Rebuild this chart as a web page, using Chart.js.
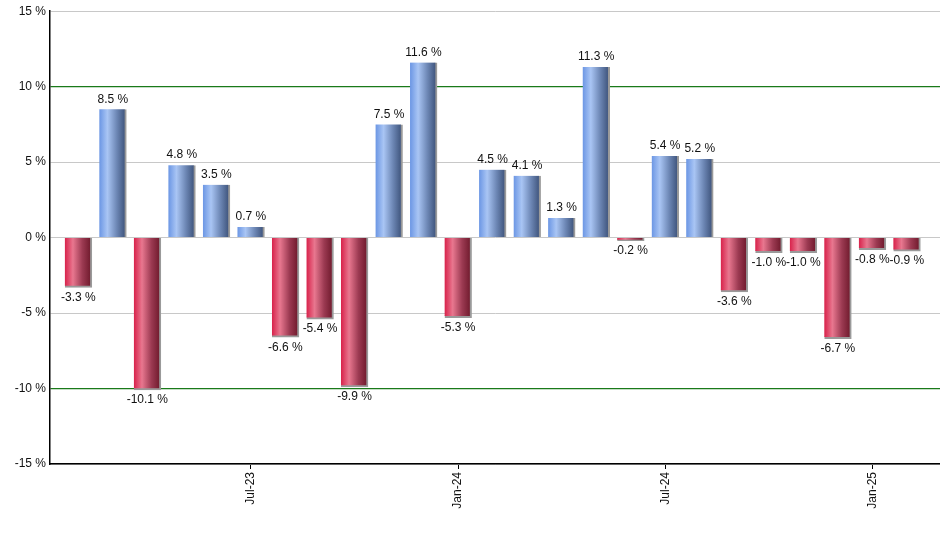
<!DOCTYPE html>
<html>
<head>
<meta charset="utf-8">
<script src="https://cdn.jsdelivr.net/npm/chart.js@4.4.1/dist/chart.umd.min.js"></script>
<style>
  html, body { margin:0; padding:0; background:#fff; }
  #wrap { position:relative; width:940px; height:550px; }
</style>
</head>
<body>
<div id="wrap"><canvas id="c"></canvas></div>
<script>
// monthly returns, Feb-23 .. Feb-25
const months = ['Feb-23','Mar-23','Apr-23','May-23','Jun-23','Jul-23','Aug-23','Sep-23','Oct-23','Nov-23','Dec-23',
  'Jan-24','Feb-24','Mar-24','Apr-24','May-24','Jun-24','Jul-24','Aug-24','Sep-24','Oct-24','Nov-24','Dec-24',
  'Jan-25','Feb-25']
const returns = [-3.3, 8.5, -10.1, 4.8, 3.5, 0.7, -6.6, -5.4, -9.9, 7.5, 11.6,
  -5.3, 4.5, 4.1, 1.3, 11.3, -0.2, 5.4, 5.2, -3.6, -1.0, -1.0, -6.7,
  -0.8, -0.9]
const tickMonths = ['Jul-23','Jan-24','Jul-24','Jan-25']
const yTicks = [-15, -10, -5, 0, 5, 10, 15]

const points = returns.map((v, i) => ({ x: i, y: v }))
const tickIdx = tickMonths.map(m => months.indexOf(m))

// horizontal cylinder-like shading per bar
const gradientBars = {
  id: 'gradientBars',
  beforeDatasetsDraw(chart) {
    const ctx = chart.ctx
    chart.getDatasetMeta(0).data.forEach((el, i) => {
      const l = el.x - el.width/2, r = el.x + el.width/2
      const g = ctx.createLinearGradient(l, 0, r, 0)
      if (returns[i] >= 0) {
        g.addColorStop(0, '#6b96e4'); g.addColorStop(0.3, '#a9c5f4')
        g.addColorStop(0.65, '#6c86b4'); g.addColorStop(1, '#384d74')
      } else {
        g.addColorStop(0, '#d8214a'); g.addColorStop(0.3, '#e8778f')
        g.addColorStop(0.65, '#9c3a52'); g.addColorStop(1, '#6a1628')
      }
      el.options.backgroundColor = g
    })
  },
  afterDatasetsDraw(chart) {
    const ctx = chart.ctx
    ctx.save()
    ctx.font = '12px "Liberation Sans", Arial, sans-serif'
    ctx.fillStyle = '#111'
    ctx.textAlign = 'center'
    chart.getDatasetMeta(0).data.forEach((el, i) => {
      const v = returns[i]
      const txt = v.toFixed(1) + ' %'
      if (v >= 0) { ctx.textBaseline = 'bottom'; ctx.fillText(txt, el.x, el.y - 4) }
      else { ctx.textBaseline = 'top'; ctx.fillText(txt, el.x, el.y + 4) }
    })
    ctx.restore()
  }
}

Chart.defaults.font.family = '"Liberation Sans", Arial, sans-serif'
Chart.defaults.font.size = 12
Chart.defaults.color = '#111'

new Chart(document.getElementById('c'), {
  type: 'bar',
  data: { datasets: [{
    data: points,
    backgroundColor: ctx => (ctx.raw && ctx.raw.y < 0) ? '#c8304f' : '#6f8fd0',
    borderColor: '#9a9a9a',
    borderWidth: ctx => (ctx.raw && ctx.raw.y < 0) ? { right: 2, bottom: 2, top: 0, left: 0 } : { right: 2, top: 0, left: 0, bottom: 0 },
    borderSkipped: false,
    barThickness: 27
  }]},
  options: {
    responsive: true, maintainAspectRatio: false, animation: false,
    layout: { padding: { top: 9, right: 0, left: 0, bottom: 0 } },
    plugins: { legend: { display: false }, tooltip: { enabled: false } },
    scales: {
      x: {
        type: 'linear', min: -0.82, max: 24.96, offset: false, bounds: 'data',
        afterBuildTicks: s => { s.ticks = tickIdx.map(v => ({ value: v })) },
        afterFit: s => { s.height = 86 },
        ticks: { autoSkip: false, minRotation: 90, maxRotation: 90, padding: 3,
          callback: v => months[v] || '' },
        grid: { offset: false, drawOnChartArea: false, drawTicks: true, tickLength: 5, color: '#000' },
        border: { color: '#000', width: 1.5 }
      },
      y: {
        min: -15, max: 15,
        afterBuildTicks: s => { s.ticks = yTicks.map(v => ({ value: v })) },
        afterFit: s => { s.width = 50 },
        ticks: { padding: 4, callback: v => v + ' %' },
        grid: { drawTicks: false,
          color: c => (c.tick && Math.abs(c.tick.value) === 10) ? '#1a7a1a' : '#c8c8c8',
          lineWidth: c => (c.tick && Math.abs(c.tick.value) === 10) ? 1.3 : 1 },
        border: { color: '#000', width: 1.5 }
      }
    }
  },
  plugins: [gradientBars]
})
</script>
</body>
</html>
